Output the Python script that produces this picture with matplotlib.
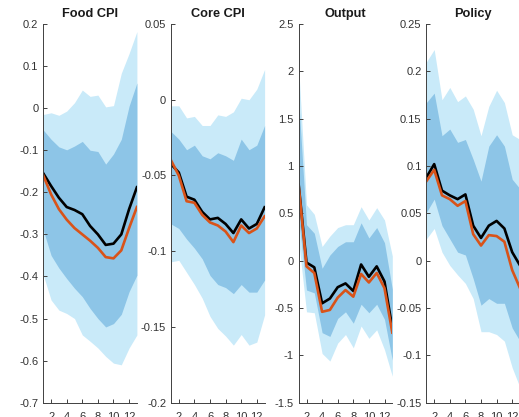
import matplotlib
matplotlib.use("Agg")
import matplotlib.pyplot as plt
import matplotlib.ticker as mticker
import numpy as np

# horizon and panel titles
horizon = np.arange(1, 14)
titles = ["Food CPI", "Core CPI", "Output", "Policy"]

# Food CPI
food_black = [-0.155, -0.185, -0.213, -0.235, -0.242, -0.252, -0.28, -0.30, -0.325, -0.322, -0.30, -0.24, -0.188]
food_orange = [-0.16, -0.205, -0.24, -0.265, -0.285, -0.30, -0.315, -0.332, -0.354, -0.357, -0.338, -0.285, -0.235]
food_lo68 = [-0.29, -0.35, -0.38, -0.405, -0.428, -0.448, -0.476, -0.50, -0.52, -0.512, -0.49, -0.436, -0.397]
food_hi68 = [-0.052, -0.074, -0.092, -0.099, -0.09, -0.079, -0.10, -0.103, -0.133, -0.109, -0.074, 0.005, 0.06]
food_lo90 = [-0.397, -0.456, -0.48, -0.488, -0.50, -0.539, -0.554, -0.57, -0.59, -0.606, -0.61, -0.57, -0.539]
food_hi90 = [-0.015, -0.011, -0.017, -0.007, 0.013, 0.043, 0.028, 0.031, 0.003, 0.006, 0.083, 0.13, 0.182]

# Core CPI
core_black = [-0.0425, -0.048, -0.064, -0.066, -0.074, -0.079, -0.078, -0.082, -0.088, -0.079, -0.085, -0.082, -0.071]
core_orange = [-0.04, -0.05, -0.067, -0.068, -0.076, -0.081, -0.083, -0.087, -0.094, -0.083, -0.088, -0.085, -0.077]
core_lo68 = [-0.082, -0.085, -0.092, -0.098, -0.105, -0.116, -0.122, -0.124, -0.128, -0.122, -0.127, -0.127, -0.119]
core_hi68 = [-0.021, -0.026, -0.033, -0.03, -0.037, -0.039, -0.035, -0.037, -0.04, -0.026, -0.033, -0.03, -0.017]
core_lo90 = [-0.107, -0.106, -0.114, -0.122, -0.131, -0.143, -0.151, -0.156, -0.162, -0.155, -0.162, -0.16, -0.142]
core_hi90 = [-0.004, -0.004, -0.012, -0.011, -0.017, -0.017, -0.010, -0.011, -0.008, 0.001, 0.0, 0.007, 0.02]

# Output
out_black = [0.80, -0.02, -0.07, -0.45, -0.40, -0.28, -0.24, -0.32, -0.04, -0.17, -0.06, -0.22, -0.71]
out_orange = [0.79, -0.06, -0.13, -0.54, -0.52, -0.39, -0.31, -0.38, -0.14, -0.23, -0.13, -0.29, -0.76]
out_lo68 = [0.45, -0.31, -0.34, -0.76, -0.80, -0.61, -0.54, -0.66, -0.46, -0.55, -0.46, -0.62, -1.05]
out_hi68 = [1.70, 0.38, 0.29, -0.08, 0.06, 0.15, 0.20, 0.20, 0.40, 0.24, 0.35, 0.19, -0.30]
out_lo90 = [0.20, -0.54, -0.55, -0.98, -1.06, -0.87, -0.78, -0.92, -0.69, -0.82, -0.73, -0.94, -1.22]
out_hi90 = [2.05, 0.59, 0.49, 0.15, 0.26, 0.35, 0.38, 0.38, 0.57, 0.43, 0.56, 0.43, 0.05]

# Policy
pol_black = [0.088, 0.102, 0.074, 0.069, 0.065, 0.07, 0.037, 0.024, 0.037, 0.042, 0.034, 0.009, -0.005]
pol_orange = [0.084, 0.096, 0.069, 0.065, 0.058, 0.063, 0.028, 0.016, 0.027, 0.026, 0.02, -0.01, -0.029]
pol_lo68 = [0.051, 0.065, 0.037, 0.023, 0.009, 0.006, -0.019, -0.047, -0.04, -0.045, -0.045, -0.071, -0.085]
pol_hi68 = [0.167, 0.177, 0.132, 0.139, 0.125, 0.128, 0.107, 0.084, 0.121, 0.133, 0.121, 0.086, 0.076]
pol_lo90 = [0.023, 0.034, 0.009, -0.005, -0.015, -0.024, -0.04, -0.075, -0.075, -0.078, -0.085, -0.113, -0.134]
pol_hi90 = [0.21, 0.223, 0.17, 0.183, 0.168, 0.174, 0.16, 0.132, 0.163, 0.18, 0.167, 0.133, 0.128]

panels = [
    (food_black, food_orange, food_lo68, food_hi68, food_lo90, food_hi90, (-0.7, 0.2), np.arange(-0.7, 0.21, 0.1)),
    (core_black, core_orange, core_lo68, core_hi68, core_lo90, core_hi90, (-0.2, 0.05), np.arange(-0.2, 0.051, 0.05)),
    (out_black, out_orange, out_lo68, out_hi68, out_lo90, out_hi90, (-1.5, 2.5), np.arange(-1.5, 2.51, 0.5)),
    (pol_black, pol_orange, pol_lo68, pol_hi68, pol_lo90, pol_hi90, (-0.15, 0.25), np.arange(-0.15, 0.251, 0.05)),
]

plt.rcParams["font.family"] = ["Liberation Sans", "DejaVu Sans"]
plt.rcParams["axes.unicode_minus"] = False

W, H = 519, 417
fig = plt.figure(figsize=(W / 100, H / 100), dpi=100)

light = "#c9eaf9"
dark = "#8dc5e7"
axis_col = "#404040"


def fmt(v, pos):
    v = round(v, 4) + 0.0
    if v == 0:
        return "0"
    return "%g" % v


for i, (blk, org, lo68, hi68, lo90, hi90, ylim, yt) in enumerate(panels):
    left = 43.3 + i * 127.7
    ax = fig.add_axes([left / W, 1 - 402.7 / H, 93.6 / W, (402.7 - 24) / H])
    ax.fill_between(horizon, lo90, hi90, color=light, linewidth=0)
    ax.fill_between(horizon, lo68, hi68, color=dark, linewidth=0)
    ax.plot(horizon, blk, color="black", linewidth=1.9)
    ax.plot(horizon, org, color="#d95319", linewidth=1.9)
    ax.set_xlim(1, 13)
    ax.set_ylim(*ylim)
    ax.set_xticks(range(2, 13, 2))
    ax.set_yticks(np.round(yt, 4))
    ax.yaxis.set_major_formatter(mticker.FuncFormatter(fmt))
    ax.set_title(titles[i], fontsize=9.2, fontweight="bold", pad=5, color="#1a1a1a")
    for side in ("top", "right"):
        ax.spines[side].set_visible(False)
    for side in ("left", "bottom"):
        ax.spines[side].set_color(axis_col)
        ax.spines[side].set_linewidth(0.7)
    ax.tick_params(direction="in", length=3, width=0.7, colors=axis_col,
                   labelsize=8, labelcolor="#333333")
    ax.tick_params(axis="y", pad=3.5)
    ax.tick_params(axis="x", pad=6.5)

plt.savefig("out.png", dpi=100)
plt.close()
